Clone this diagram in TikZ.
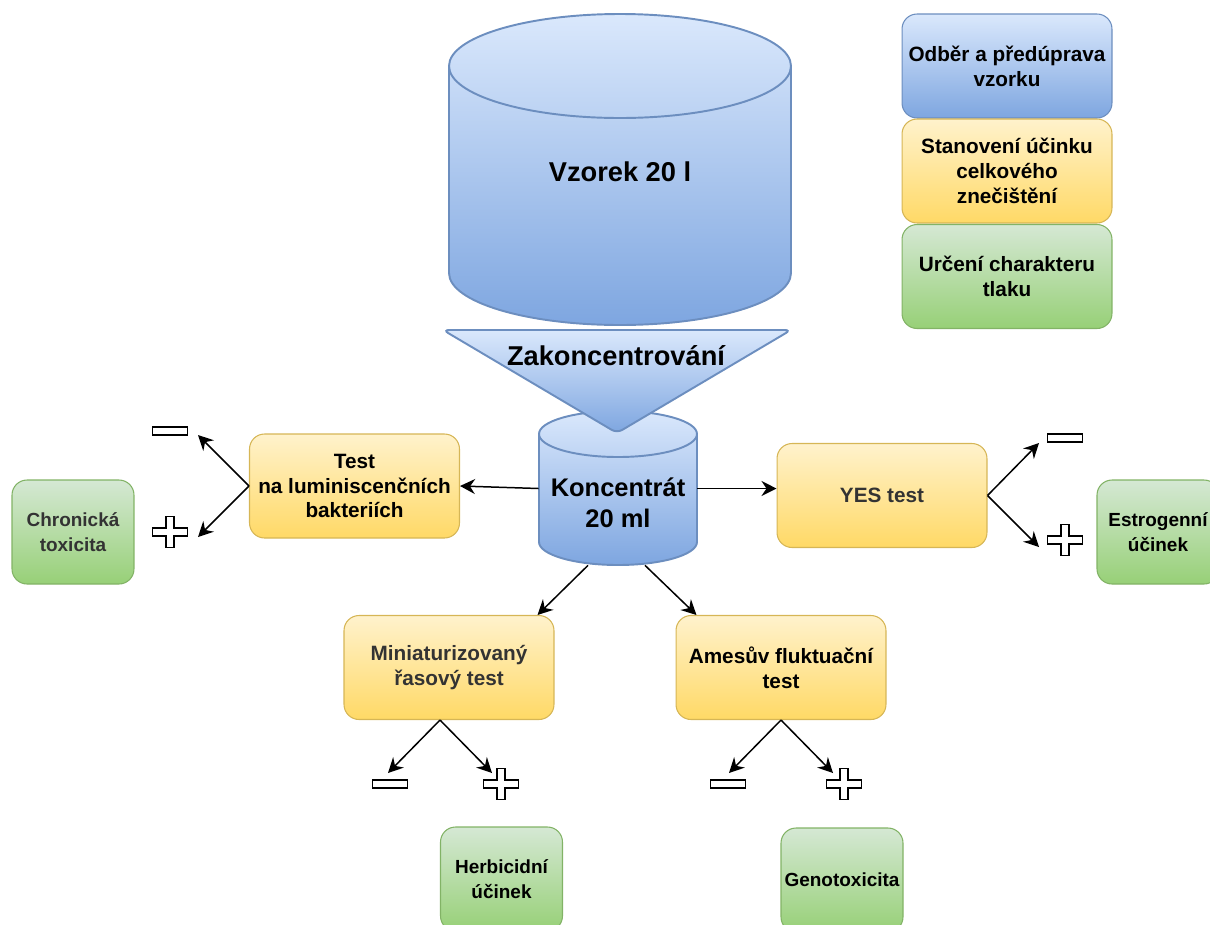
\documentclass[tikz,border=0pt]{standalone}
\usepackage{fontspec}
\setmainfont{Liberation Sans}
\usetikzlibrary{arrows.meta}

\definecolor{blueTop}{HTML}{DAE8FC}
\definecolor{blueBot}{HTML}{7EA6E0}
\definecolor{blueLine}{HTML}{6C8EBF}
\definecolor{yelTop}{HTML}{FFF2CC}
\definecolor{yelBot}{HTML}{FFD966}
\definecolor{yelLine}{HTML}{D6B656}
\definecolor{grnTop}{HTML}{D5E8D4}
\definecolor{grnBot}{HTML}{97D077}
\definecolor{grnLine}{HTML}{82B366}
\definecolor{txtGray}{HTML}{333333}

\tikzset{
  box/.style={rectangle, rounded corners=0.3cm, minimum width=4.2cm, minimum height=2.08cm,
    align=center, line width=0.6pt, font=\fontsize{11.8}{14.2}\selectfont\bfseries},
  testbox/.style={box, draw=yelLine, top color=yelTop, bottom color=yelBot},
  bluebox/.style={box, draw=blueLine, top color=blueTop, bottom color=blueBot},
  greenbox/.style={box, draw=grnLine, top color=grnTop, bottom color=grnBot},
  resultbox/.style={greenbox, minimum width=2.44cm, inner xsep=1pt, font=\fontsize{10.8}{14.2}\selectfont\bfseries},
  vessel/.style={draw=blueLine, line width=1.1pt},
  vesselfill/.style={top color=blueTop, bottom color=blueBot},
  bigtext/.style={font=\fontsize{15.5}{18}\selectfont\bfseries},
  midtext/.style={align=center, font=\fontsize{14.5}{17.6}\selectfont\bfseries},
  link/.style={-{Stealth[length=3mm, width=3mm, inset=1mm]}, line width=0.85pt},
  signline/.style={draw=black, fill=white, line width=0.7pt},
  minussign/.pic={\path[signline] (-17.5,-4) rectangle (17.5,4);},
  plussign/.pic={\path[signline] (-4,-15.5) -- (4,-15.5) -- (4,-4) -- (17.5,-4) -- (17.5,4) -- (4,4)
    -- (4,15.5) -- (-4,15.5) -- (-4,4) -- (-17.5,4) -- (-17.5,-4) -- (-4,-4) -- cycle;}
}

\begin{document}
\begin{tikzpicture}[x=0.02cm, y=-0.02cm]

\path[use as bounding box] (0,0) rectangle (1210,924);
\clip (0,0) rectangle (1210,924);

% big vessel
\shade[vesselfill] (449,66) arc [start angle=180, end angle=360, x radius=171, y radius=52]
  -- (791,273) arc [start angle=0, end angle=180, x radius=171, y radius=52] -- cycle;
\draw[vessel] (449,66) -- (449,273) arc [start angle=180, end angle=0, x radius=171, y radius=52] -- (791,66);
\draw[vessel] (620,66) ellipse [x radius=171, y radius=52];

% small vessel
\shade[vesselfill] (539,434) arc [start angle=180, end angle=360, x radius=79, y radius=23]
  -- (697,542) arc [start angle=0, end angle=180, x radius=79, y radius=23] -- cycle;
\draw[vessel] (539,434) -- (539,542) arc [start angle=180, end angle=0, x radius=79, y radius=23] -- (697,434);
\draw[vessel] (618,434) ellipse [x radius=79, y radius=23];

% funnel
\shade[vesselfill, rounded corners=0.12cm] (443,330) -- (791,330) -- (617,433) -- cycle;
\draw[vessel, rounded corners=0.12cm] (443,330) -- (791,330) -- (617,433) -- cycle;

\node[bigtext] (vzorek) at (620,172) {Vzorek 20 l};
\node[bigtext] (zakonc) at (616,356) {Zakoncentrování};
\node[minimum width=3.16cm, minimum height=3.06cm, inner sep=0] (konc) at (618,488.5) {};
\node[midtext] (konctext) at (618,503) {Koncentrát\\20 ml};

% legend
\node[bluebox] (odber) at (1007,66) {Odběr a předúprava\\vzorku};
\node[testbox] (stanoveni) at (1007,171) {Stanovení účinku\\celkového\\znečištění};
\node[greenbox] (urceni) at (1007,276.5) {Určení charakteru\\tlaku};

% tests
\node[testbox] (lum) at (354.5,486) {Test\\na luminiscenčních\\bakteriích};
\node[testbox, text=txtGray] (yes) at (882,495.5) {YES test};
\node[testbox, text=txtGray] (mini) at (449,667.5) {Miniaturizovaný\\řasový test};
\node[testbox] (ames) at (781,667.5) {Amesův fluktuační\\test};

% results
\node[resultbox, text=txtGray] (chron) at (73,532) {Chronická\\toxicita};
\node[resultbox] (estro) at (1158,532) {Estrogenní\\účinek};
\node[resultbox] (herbi) at (501.5,879) {Herbicidní\\účinek};
\node[resultbox] (geno) at (842,880) {Genotoxicita};

\draw[link] (konc.west) -- (lum.east);
\draw[link] (konc.east) -- (konc.east -| yes.west);
\draw[link] ([xshift=-0.6cm]konc.south) -- ([xshift=-0.34cm]mini.north east);
\draw[link] ([xshift=0.54cm]konc.south) -- ([xshift=0.42cm]ames.north west);

\coordinate (lumneg) at (198,435);
\coordinate (lumpos) at (198,537);
\coordinate (yesneg) at (1039,443);
\coordinate (yespos) at (1039,547);
\coordinate (minineg) at (388,773);
\coordinate (minipos) at (492,773);
\coordinate (amesneg) at (729,773);
\coordinate (amespos) at (833,773);

\draw[link] (lum.west) -- (lumneg);
\draw[link] (lum.west) -- (lumpos);
\draw[link] (yes.east) -- (yesneg);
\draw[link] (yes.east) -- (yespos);
\draw[link] ([xshift=-0.18cm]mini.south) -- (minineg);
\draw[link] ([xshift=-0.18cm]mini.south) -- (minipos);
\draw[link] (ames.south) -- (amesneg);
\draw[link] (ames.south) -- (amespos);

\pic at (170,431) {minussign};
\pic at (170,532) {plussign};
\pic at (1065,438) {minussign};
\pic at (1065,540) {plussign};
\pic at (390,784) {minussign};
\pic at (501,784) {plussign};
\pic at (728,784) {minussign};
\pic at (844,784) {plussign};

\end{tikzpicture}
\end{document}
